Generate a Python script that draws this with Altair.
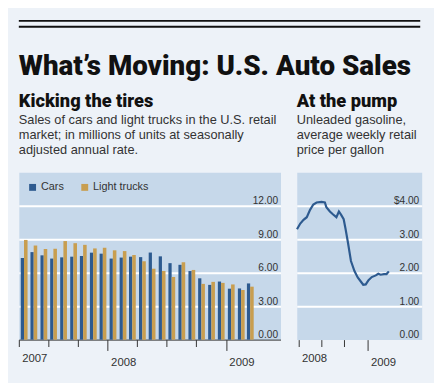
import altair as alt
import pandas as pd

# ---------------- data ----------------
months = ["2007-04-01", "2007-05-01", "2007-06-01", "2007-07-01", "2007-08-01", "2007-09-01",
          "2007-10-01", "2007-11-01", "2007-12-01", "2008-01-01", "2008-02-01", "2008-03-01",
          "2008-04-01", "2008-05-01", "2008-06-01", "2008-07-01", "2008-08-01", "2008-09-01",
          "2008-10-01", "2008-11-01", "2008-12-01", "2009-01-01", "2009-02-01", "2009-03-01"]
cars = [7.32, 7.85, 7.56, 7.27, 7.38, 7.44, 7.50, 7.80, 7.71,
        7.27, 7.36, 7.44, 7.40, 7.81, 7.47, 6.86, 6.71, 6.15, 5.50, 4.91, 5.21,
        4.57, 4.59, 5.04]
light_trucks = [8.94, 8.44, 8.13, 8.15, 8.84, 8.65, 8.50, 8.18, 8.24,
                8.01, 7.94, 7.59, 7.02, 6.36, 6.16, 5.62, 6.94, 6.25, 5.00, 5.18, 5.09,
                4.95, 4.45, 4.75]
series_names = ["Cars", "Light trucks"]

gas_dates = ["2008-03-26", "2008-04-08", "2008-04-21", "2008-05-04", "2008-05-17", "2008-05-30",
             "2008-06-12", "2008-07-02", "2008-07-15", "2008-07-21", "2008-08-04", "2008-08-17",
             "2008-08-30", "2008-09-09", "2008-09-18", "2008-09-28", "2008-10-05", "2008-10-14",
             "2008-10-27", "2008-11-10", "2008-11-23", "2008-12-06", "2008-12-15", "2008-12-25",
             "2009-01-05", "2009-01-18", "2009-02-03", "2009-02-13", "2009-02-22", "2009-03-08",
             "2009-03-18", "2009-03-27"]
gas_prices = [3.30, 3.47, 3.58, 3.66, 3.88, 4.04, 4.10, 4.12, 4.10, 3.96, 3.83, 3.74,
              3.66, 3.83, 3.73, 3.60, 3.33, 2.95, 2.35, 2.05, 1.86, 1.73, 1.64, 1.65,
              1.78, 1.87, 1.92, 1.97, 1.94, 1.96, 1.96, 2.04]

left_ticks = ["2007-04-01", "2007-07-01", "2007-10-01", "2008-01-01",
              "2008-04-01", "2008-07-01", "2008-10-01", "2009-01-01"]
right_ticks = ["2008-04-01", "2008-07-01", "2008-10-01", "2009-01-01"]
left_domain = ["2007-04-01", "2009-06-19"]
right_domain = ["2008-03-25", "2009-08-05"]
sales_ticks = [0, 3, 6, 9, 12]
gas_ticks = [0, 1, 2, 3, 4]

headline = "What\u2019s Moving: U.S. Auto Sales"
left_head = "Kicking the tires"
left_sub = ["Sales of cars and light trucks in the U.S. retail",
            "market; in millions of units at seasonally",
            "adjusted annual rate."]
right_head = "At the pump"
right_sub = ["Unleaded gasoline,", "average weekly retail", "price per gallon"]

# ---------------- style ----------------
BG = "#edf2f8"
PLOT_BG = "#c6d8ea"
BLUE = "#2d5a8f"
GOLD = "#c89e50"
AX = "#333333"
TXT = "#333333"
SANS = "Liberation Sans"
HEAD = "Roboto"


def dt(s):
    y, m, d = (int(v) for v in s.split("-"))
    return alt.DateTime(year=y, month=m, date=d, utc=True)


tick_size = {"condition": {"test": "utcmonth(datum.value) == 0", "value": 11}, "value": 7}
grid_op = {"condition": {"test": "datum.value == 0", "value": 0}, "value": 1}


def x_axis(ticks, first_year, first_month, show_domain):
    return alt.Axis(
        values=[dt(s) for s in ticks], title=None, grid=False,
        domain=show_domain, domainColor=AX, domainWidth=1,
        tickColor=AX, tickWidth=1, tickSize=tick_size,
        labelExpr=(f"utcmonth(datum.value) == 0 || (utcyear(datum.value) == {first_year} && "
                   f"utcmonth(datum.value) == {first_month}) ? utcFormat(datum.value, '%Y') : ''"),
        labelAlign="left", labelBaseline="alphabetic", labelPadding=15, labelOffset=3,
        labelFont=SANS, labelFontSize=11.5, labelColor=TXT,
        labelOverlap=False, labelFlush=False, labelBound=False,
    )


def y_axis(ticks, expr):
    return alt.Axis(
        orient="right", values=ticks, title=None, domain=False, ticks=False, tickSize=0,
        grid=True, gridColor="white", gridWidth=2, gridOpacity=grid_op,
        labelExpr=expr, labelAlign="right", labelBaseline="alphabetic",
        labelPadding=-3, labelOffset=-2, labelFont=SANS, labelFontSize=10.3,
        labelColor=TXT, labelOverlap=False,
    )


def panel_title(head, sub):
    return alt.TitleParams(
        text=head, subtitle=sub, anchor="start", frame="group",
        font=HEAD, fontWeight=900, fontSize=18.5, color="#111111",
        subtitleFont=SANS, subtitleFontSize=13, subtitleColor=TXT,
        subtitleLineHeight=15, subtitlePadding=4, offset=16,
    )


# ---------------- header rules + headline ----------------
rules = alt.Chart(pd.DataFrame({"r": [0, 1]})).mark_rule(
    color="#111111", strokeWidth=2
).encode(
    y=alt.Y("r:Q", scale=alt.Scale(domain=[0, 1], nice=False), axis=None)
).properties(
    width=408, height=6,
    view=alt.ViewBackground(fill="transparent", stroke="transparent"),
    title=alt.TitleParams(
        text=headline, orient="bottom", anchor="start", frame="group",
        font=HEAD, fontWeight=900, fontSize=28.2, color="#111111",
        baseline="alphabetic", offset=48,
    ),
)

# ---------------- left: auto sales bars ----------------
sales = pd.DataFrame({
    "month": months * 2,
    "series": [series_names[0]] * len(months) + [series_names[1]] * len(months),
    "value": cars + light_trucks,
})

left = alt.Chart(sales).transform_calculate(
    start="time(toDate(datum.month)) + (datum.series == 'Cars' ? 6 : 16) * 86400000",
    end="time(toDate(datum.month)) + (datum.series == 'Cars' ? 16 : 27) * 86400000",
).mark_bar(strokeWidth=0).encode(
    x=alt.X("start:T", scale=alt.Scale(type="utc", domain=[dt(s) for s in left_domain]),
            axis=x_axis(left_ticks, 2007, 3, True)),
    x2="end:T",
    y=alt.Y("value:Q", scale=alt.Scale(domain=[0, 15], nice=False),
            axis=y_axis(sales_ticks, "format(datum.value, '.2f')")),
    y2=alt.datum(0),
    color=alt.Color("series:N", scale=alt.Scale(domain=series_names, range=[BLUE, GOLD]),
                    legend=alt.Legend(orient="none", legendX=8.5, legendY=9.5,
                                      direction="horizontal", title=None,
                                      symbolType="square", symbolSize=49,
                                      symbolStrokeWidth=0, labelFont=SANS,
                                      labelFontSize=11, labelColor=TXT, labelOffset=3,
                                      columnPadding=15, padding=0)),
).properties(
    width=266, height=170,
    view=alt.ViewBackground(fill=PLOT_BG, stroke="transparent"),
    title=panel_title(left_head, left_sub),
)

# ---------------- right: gasoline line ----------------
gas = pd.DataFrame({"date": gas_dates, "price": gas_prices})

right = alt.Chart(gas).mark_line(color=BLUE, strokeWidth=2.2).encode(
    x=alt.X("date:T", scale=alt.Scale(type="utc", domain=[dt(s) for s in right_domain]),
            axis=x_axis(right_ticks, 2008, 3, False)),
    y=alt.Y("price:Q", scale=alt.Scale(domain=[0, 5], nice=False),
            axis=y_axis(gas_ticks,
                        "datum.value == 4 ? '$4.00' : format(datum.value, '.2f')")),
).properties(
    width=127, height=170,
    view=alt.ViewBackground(fill=PLOT_BG, stroke="transparent"),
    title=panel_title(right_head, right_sub),
)

panels = alt.hconcat(left, right, spacing=10.5).resolve_scale(
    color="independent").resolve_legend(color="independent")

chart = alt.vconcat(
    rules,
    panels,
    spacing=11,
).resolve_scale(color="independent").resolve_legend(color="independent").properties(
    padding={"left": 9, "top": 8, "right": 12, "bottom": 12},
    background=BG,
).configure_view(stroke="transparent")

chart.save("out.html", embed_options={"renderer": "svg", "actions": False})
